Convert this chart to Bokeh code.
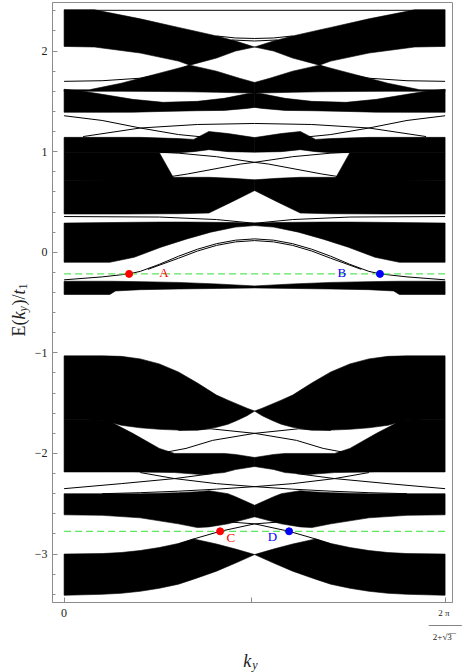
import math
from bokeh.plotting import figure
from bokeh.models import Range1d, FixedTicker, SingleIntervalTicker, Label
from bokeh.embed import file_html
from bokeh.resources import INLINE

# ---------------- data (k in units of 2*pi/(2+sqrt3), E in units of t1) ----------------
# bulk bands: left piece knots, mirrored piece knots, upper edge, lower edge
BAND_A_U = [0, .08, .2, .3, .33, .4, .45, .5]
BAND_A_UM = [1, .92, .8, .7, .67, .6, .55, .5]
BAND_A_TOP = [2.41, 2.41, 2.32, 2.235, 2.21, 2.15, 2.10, 2.04]
BAND_A_BOT = [2.046, 2.04, 1.98, 1.90, 1.86, 1.93, 2.0, 2.04]

BAND_B_U = [0, .066, .15, .25, .33, .4, .46, .5]
BAND_B_UM = [1, .934, .85, .75, .67, .6, .54, .5]
BAND_B_TOP = [1.615, 1.615, 1.68, 1.78, 1.86, 1.80, 1.73, 1.688]
BAND_B_BOT = [1.60, 1.60, 1.60, 1.598, 1.595, 1.59, 1.585, 1.583]

BAND_C_U = [0, .05, .1, .18, .26, .35, .42, .48, .5]
BAND_C_UM = [1, .95, .9, .82, .74, .65, .58, .52, .5]
BAND_C_TOP = [1.62, 1.60, 1.57, 1.52, 1.49, 1.50, 1.53, 1.575, 1.583]
BAND_C_BOT = [1.391, 1.391, 1.391, 1.392, 1.40, 1.407, 1.41, 1.43, 1.44]

BAND_D_U = [0, .2, .3, .34, .38, .43, .5]
BAND_D_UM = [1, .8, .7, .66, .62, .57, .5]
BAND_D_TOP = [1.142, 1.142, 1.13, 1.122, 1.20, 1.18, 1.14]
BAND_D_BOT = [0.99, 0.99, 0.99, 1.0, 1.02, 1.0, 0.995]

BAND_E_U = [0, .2, .25, .29]
BAND_E_UM = [1, .8, .75, .71]
BAND_E_TOP = [0.99, 0.99, 0.99, 0.72]
BAND_E_BOT = [0.71, 0.715, 0.72, 0.72]

BAND_F_U = [0, .15, .3, .38, .44, .5]
BAND_F_UM = [1, .85, .7, .62, .56, .5]
BAND_F_TOP = [0.71, 0.72, 0.745, 0.745, 0.735, 0.72]
BAND_F_BOT = [0.38, 0.38, 0.383, 0.39, 0.50, 0.613]

BAND_G_U = [0, .12, .184, .254, .32, .385, .45, .5]
BAND_G_UM = [1, .88, .816, .746, .68, .615, .55, .5]
BAND_G_TOP = [0.29, 0.295, 0.298, 0.30, 0.30, 0.298, 0.295, 0.288]
BAND_G_BOT = [-0.10, -0.10, -0.05, 0.05, 0.13, 0.20, 0.25, 0.265]

BAND_H_U = [0, .12, .135, .2, .3, .4, .5]
BAND_H_UM = [1, .88, .865, .8, .7, .6, .5]
BAND_H_TOP = [-0.288, -0.288, -0.289, -0.292, -0.30, -0.315, -0.335]
BAND_H_BOT = [-0.42, -0.42, -0.385, -0.372, -0.365, -0.36, -0.355]

BAND_I_U = [0, .1, .15, .2, .25, .3, .35, .4, .43, .455, .48, .5]
BAND_I_UM = [1, .9, .85, .8, .75, .7, .65, .6, .57, .545, .52, .5]
BAND_I_TOP = [-1.03, -1.03, -1.035, -1.06, -1.11, -1.19, -1.30, -1.42, -1.47, -1.51, -1.55, -1.579]
BAND_I_BOT = [-1.66, -1.67, -1.72, -1.745, -1.76, -1.768, -1.77, -1.74, -1.71, -1.67, -1.625, -1.579]

BAND_K_U = [0, .114, .18, .25, .29, .36, .42, .45, .5]
BAND_K_UM = [1, .886, .82, .75, .71, .64, .58, .55, .5]
BAND_K_TOP = [-1.66, -1.671, -1.80, -1.95, -2.00, -2.00, -2.00, -2.01, -2.04]
BAND_K_BOT = [-2.184, -2.184, -2.184, -2.188, -2.19, -2.21, -2.19, -2.16, -2.13]

BAND_L_U = [0, .1, .2, .3, .35, .38, .43, .45, .5]
BAND_L_UM = [1, .9, .8, .7, .65, .62, .57, .55, .5]
BAND_L_TOP = [-2.40, -2.40, -2.40, -2.39, -2.38, -2.37, -2.40, -2.43, -2.515]
BAND_L_BOT = [-2.61, -2.615, -2.64, -2.70, -2.737, -2.73, -2.70, -2.68, -2.63]

BAND_M_U = [0, .1, .15, .2, .25, .3, .34, .4, .45, .5]
BAND_M_UM = [1, .9, .85, .8, .75, .7, .66, .6, .55, .5]
BAND_M_TOP = [-3.0, -2.995, -2.985, -2.965, -2.935, -2.895, -2.85, -2.90, -2.95, -3.005]
BAND_M_BOT = [-3.41, -3.40, -3.39, -3.37, -3.34, -3.30, -3.25, -3.17, -3.09, -3.005]

BANDS = [
    (BAND_A_U, BAND_A_UM, BAND_A_TOP, BAND_A_BOT),
    (BAND_B_U, BAND_B_UM, BAND_B_TOP, BAND_B_BOT),
    (BAND_C_U, BAND_C_UM, BAND_C_TOP, BAND_C_BOT),
    (BAND_D_U, BAND_D_UM, BAND_D_TOP, BAND_D_BOT),
    (BAND_E_U, BAND_E_UM, BAND_E_TOP, BAND_E_BOT),
    (BAND_F_U, BAND_F_UM, BAND_F_TOP, BAND_F_BOT),
    (BAND_G_U, BAND_G_UM, BAND_G_TOP, BAND_G_BOT),
    (BAND_H_U, BAND_H_UM, BAND_H_TOP, BAND_H_BOT),
    (BAND_I_U, BAND_I_UM, BAND_I_TOP, BAND_I_BOT),
    (BAND_K_U, BAND_K_UM, BAND_K_TOP, BAND_K_BOT),
    (BAND_L_U, BAND_L_UM, BAND_L_TOP, BAND_L_BOT),
    (BAND_M_U, BAND_M_UM, BAND_M_TOP, BAND_M_BOT),
]

# isolated (edge / crossing) states
LINE_TOP_U = [0, 1]
LINE_TOP_E = [2.405, 2.405]
LENS1_U = [.40, .45, .5, .55, .60]
LENS1_E = [2.15, 2.13, 2.125, 2.13, 2.15]
LENS2_U = [.44, .5, .56]
LENS2_E = [2.11, 2.10, 2.11]
LB_U = [0, .1, .2, .28, .33]
LB_UM = [1, .9, .8, .72, .67]
LB_E = [1.699, 1.705, 1.73, 1.79, 1.86]
LALPHA_U = [0, .1, .2, .3, .38]
LALPHA_UM = [1, .9, .8, .7, .62]
LALPHA_E = [1.357, 1.31, 1.235, 1.17, 1.14]
LGAMMA_U = [.05, .2, .35, .5, .65, .8, .95]
LGAMMA_E = [1.15, 1.235, 1.27, 1.28, 1.27, 1.235, 1.15]
LE_U = [.26, .324, .464, .5, .6, .7, .75]
LE_UM = [.74, .676, .536, .5, .4, .3, .25]
LE_E = [0.74, 0.778, 0.877, 0.894, 0.95, 0.985, 0.995]
LF_U = [0, .25, .4, .5, .6]
LF_UM = [1, .75, .6, .5, .4]
LF_E = [0.355, 0.35, 0.325, 0.288, 0.27]
EDGE1_U = [0, .1, .1706, .2, .25, .3, .35, .4, .45, .5, .55, .6, .65, .7, .75, .8, .829, .9, 1]
EDGE1_E = [-0.274, -0.245, -0.215, -0.19, -0.12, -0.04, 0.03, 0.085, 0.12, 0.133,
           0.12, 0.085, 0.03, -0.04, -0.12, -0.19, -0.215, -0.245, -0.274]
EDGE2_U = [.22, .3, .35, .4, .45, .5, .55, .6, .65, .7, .78]
EDGE2_E = [-0.17, -0.06, 0.012, 0.068, 0.103, 0.116, 0.103, 0.068, 0.012, -0.06, -0.17]
Q_U = [.30, .385, .5, .61, .68, .75]
Q_UM = [.70, .615, .5, .39, .32, .25]
Q_E = [-1.77, -1.755, -1.80, -1.87, -1.95, -2.0]
R1_U = [0, .15, .29, .39]
R1_UM = [1, .85, .71, .61]
R1_E = [-2.35, -2.30, -2.25, -2.20]
R2_U = [.2, .29, .4, .5, .6, .7, .8, .9]
R2_UM = [.8, .71, .6, .5, .4, .3, .2, .1]
R2_E = [-2.19, -2.25, -2.30, -2.33, -2.355, -2.375, -2.39, -2.40]
CL_U = [.30, .34, .4095, .5, .57, .62, .66]
CL_UM = [.70, .66, .5905, .5, .43, .38, .34]
CL_E = [-2.90, -2.85, -2.774, -2.70, -2.68, -2.69, -2.72]

LINES = [(LINE_TOP_U, LINE_TOP_E), (LENS1_U, LENS1_E), (LENS2_U, LENS2_E),
         (LB_U, LB_E), (LB_UM, LB_E), (LALPHA_U, LALPHA_E), (LALPHA_UM, LALPHA_E),
         (LGAMMA_U, LGAMMA_E),
         (LE_U, LE_E), (LE_UM, LE_E), (LF_U, LF_E), (LF_UM, LF_E),
         (EDGE1_U, EDGE1_E), (EDGE2_U, EDGE2_E), (Q_U, Q_E), (Q_UM, Q_E),
         (R1_U, R1_E), (R1_UM, R1_E), (R2_U, R2_E), (R2_UM, R2_E),
         (CL_U, CL_E), (CL_UM, CL_E)]

# Fermi-level cuts and marked states
CUT_E = [-0.215, -2.774]
POINT_NAMES = ["A", "B", "C", "D"]
POINT_U = [0.1706, 0.829, 0.4095, 0.5905]
POINT_E = [-0.215, -0.215, -2.774, -2.774]
POINT_COLORS = ["#ff0000", "#0000ff", "#ff0000", "#0000ff"]
POINT_LABEL_U = [0.262, 0.729, 0.4375, 0.547]
POINT_LABEL_E = [-0.199, -0.199, -2.840, -2.823]

# ---------------- figure ----------------
FONT = "Liberation Serif"
GRAY = "#8c8c8c"
LEFT_PANEL = 300          # room for the stacked text annotations (shifted off-page)

p = figure(frame_width=400, frame_height=600,
           x_range=Range1d(-0.0304, 1.0194), y_range=Range1d(-3.4816, 2.4826),
           output_backend="svg", toolbar_location=None,
           min_border_left=LEFT_PANEL, min_border_right=11, min_border_top=2, min_border_bottom=70,
           styles={"margin-left": "-%dpx" % (LEFT_PANEL - 52)})
p.xgrid.visible = False
p.ygrid.visible = False
p.outline_line_color = GRAY
p.background_fill_color = "white"

xs, ys = [], []
for u, um, top, bot in BANDS:
    for uu in (u, um):
        xs.append(list(uu) + list(uu)[::-1])
        ys.append(list(top) + list(bot)[::-1])
p.patches(xs, ys, fill_color="black", line_color="black", line_width=0.6)

p.multi_line([l[0] for l in LINES], [l[1] for l in LINES], line_color="black", line_width=1)

for e in CUT_E:
    p.line([0, 1], [e, e], line_color="#5ee65e", line_width=1.2, line_dash="7 4")

p.scatter(POINT_U, POINT_E, size=7, color=POINT_COLORS)
for name, lu, le, c in zip(POINT_NAMES, POINT_LABEL_U, POINT_LABEL_E, POINT_COLORS):
    p.add_layout(Label(x=lu, y=le, text=name, text_color=c, text_font=FONT,
                       text_font_size="13px", text_align="center", text_baseline="middle"))

# axes
p.yaxis.ticker = SingleIntervalTicker(interval=1, num_minor_ticks=5)
p.yaxis.major_label_overrides = {-3: "\u22123", -2: "\u22122", -1: "\u22121"}
p.xaxis.ticker = FixedTicker(ticks=[0, 0.4918, 1])
p.xaxis.major_label_overrides = {0: "0", 0.4918: "", 1: ""}
for ax in (p.xaxis, p.yaxis):
    ax.axis_line_color = GRAY
    ax.major_tick_line_color = GRAY
    ax.minor_tick_line_color = GRAY
    ax.major_tick_in = 5
    ax.major_tick_out = 0
    ax.minor_tick_in = 3
    ax.minor_tick_out = 0
    ax.major_label_text_font = FONT
    ax.major_label_text_font_size = "12px"
    ax.major_label_text_color = "#222222"
p.yaxis.major_label_standoff = 5
p.xaxis.major_label_standoff = 6


def px_u(px):
    return (px - 63.3) / 381.0


def py_e(py):
    return (251.7 - py) / 100.7


def txt(text, px, py, size, style="normal", angle=0.0, align="left", baseline="alphabetic", color="#222222"):
    # placed in the (wide) left side panel so that it is not clipped to the frame
    p.add_layout(Label(x=px_u(px), y=py_e(py), text=text, text_font=FONT,
                       text_font_size=size, text_font_style=style, angle=angle,
                       text_align=align, text_baseline=baseline, text_color=color), "left")


# y-axis label  E(k_y)/t_1  (rotated)
R = math.pi / 2
txt("E(", 18, 336, "18px", angle=R)
txt("k", 18, 319, "18px", "italic", angle=R)
txt("y", 22, 311, "12px", "italic", angle=R)
txt(")/", 18, 305, "18px", angle=R)
txt("t", 18, 294, "18px", "italic", angle=R)
txt("1", 22, 289, "12px", angle=R)

# x-axis label k_y
txt("k", 242.5, 661, "18px", "italic")
txt("y", 251.5, 664.5, "12px", "italic")

# right tick label 2pi/(2+sqrt3)
txt("2 \u03c0", 443, 613, "9px", align="center", baseline="middle")
txt("\u2014\u2014\u2014", 428, 624.3, "11px")
txt("2+\u221a3", 441.5, 637, "9px", align="center", baseline="middle")
txt("\u2014", 447.6, 632.6, "7.5px")

open("out.html", "w").write(file_html(p, INLINE))
